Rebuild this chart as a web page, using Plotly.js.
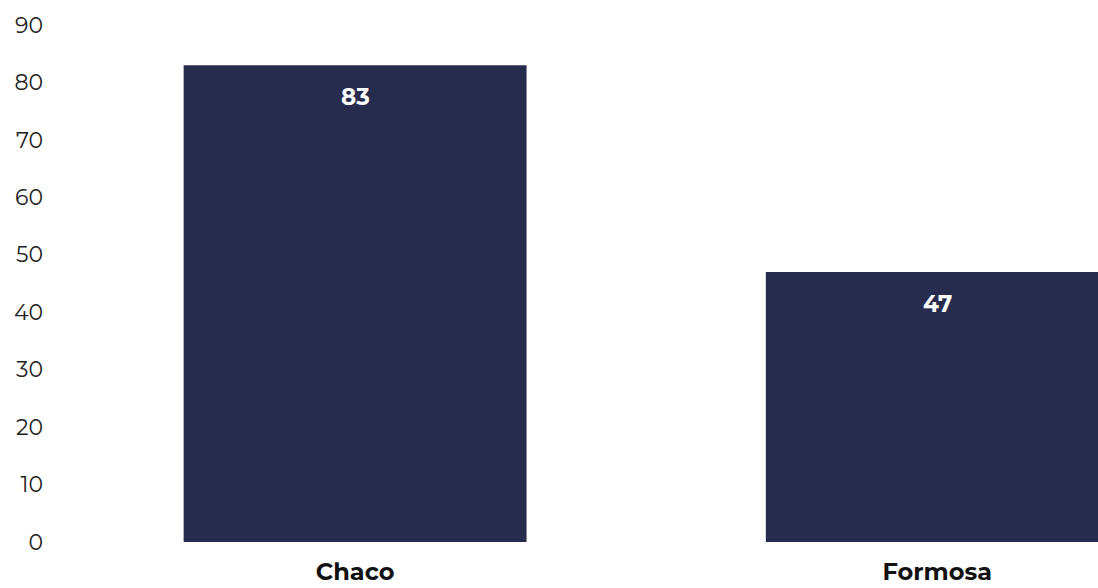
<!DOCTYPE html>
<html>
<head>
<meta charset="utf-8">
<script src="https://cdn.plot.ly/plotly-3.0.1.min.js"></script>
<style>html,body{margin:0;padding:0;background:#fff;}#chart{width:1098px;height:588px;}</style>
</head>
<body>
<div id="chart"></div>
<script>
const categories = ["Chaco", "Formosa"];
const values = [83, 47];
const yTicks = [0, 10, 20, 30, 40, 50, 60, 70, 80, 90];

const barColor = "#272c4f";
const fontFamily = "Montserrat, 'DejaVu Sans', sans-serif";

const trace = {
  type: "bar",
  x: categories,
  y: values,
  marker: {color: barColor},
  hoverinfo: "none",
  cliponaxis: true
};

const annotations = categories.map((c, i) => ({
  x: c, y: values[i], xref: "x", yref: "y",
  text: "<b>" + values[i] + "</b>",
  showarrow: false, yanchor: "top", yshift: -16,
  font: {family: fontFamily, size: 23, color: "#ffffff"}
}));

const layout = {
  width: 1098, height: 588,
  margin: {l: 64, r: 0, t: 25, b: 46, pad: 0},
  paper_bgcolor: "#ffffff", plot_bgcolor: "#ffffff",
  showlegend: false,
  bargap: 0.411,
  xaxis: {
    type: "category",
    range: [-0.5, 1.276],
    showgrid: false, zeroline: false, showline: false,
    ticks: "", ticklabelstandoff: 13,
    tickfont: {family: fontFamily, size: 24, color: "#111111", weight: "bold"}
  },
  yaxis: {
    range: [0, 90],
    tickvals: yTicks,
    ticktext: yTicks.map(String),
    showgrid: false, zeroline: false, showline: false,
    ticks: "", ticklabelstandoff: 20,
    tickfont: {family: fontFamily, size: 22, color: "#222222"}
  },
  annotations: annotations
};

Plotly.newPlot("chart", [trace], layout, {displayModeBar: false, staticPlot: true});
</script>
</body>
</html>
